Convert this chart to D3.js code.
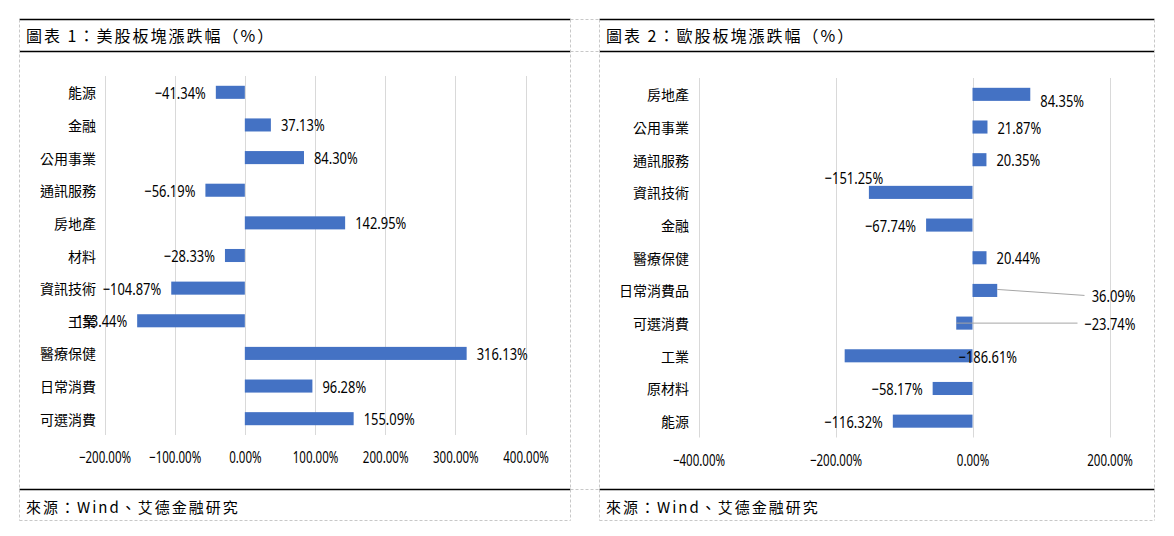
<!DOCTYPE html>
<html>
<head>
<meta charset="utf-8">
<script src="https://cdn.jsdelivr.net/npm/d3@7"></script>
<style>
  body { margin: 0; background: #fff; }
  .cat { font-family: "Noto Sans CJK TC", sans-serif; font-size: 14px; fill: #000; }
  .num { font-family: "Noto Sans", "Noto Sans CJK TC", sans-serif; font-size: 17px; fill: #000; }
  .ttl { font-family: "Noto Sans CJK TC", serif; font-size: 16px; fill: #000; letter-spacing: 2px; }
  .src { font-family: "Noto Sans CJK TC", serif; font-size: 15px; fill: #000; letter-spacing: 2px; }
</style>
</head>
<body>
<svg id="chart" width="1174" height="536"></svg>
<script>
(function() {

// chart 1: US sectors
var usCats = ['能源', '金融', '公用事業', '通訊服務', '房地產', '材料', '資訊技術', '工業', '醫療保健', '日常消費', '可選消費'];
var usVals = [-41.34, 37.13, 84.30, -56.19, 142.95, -28.33, -104.87, -153.44, 316.13, 96.28, 155.09];
var usTicks = [-200, -100, 0, 100, 200, 300, 400];

// chart 2: EU sectors
var euCats = ['房地產', '公用事業', '通訊服務', '資訊技術', '金融', '醫療保健', '日常消費品', '可選消費', '工業', '原材料', '能源'];
var euVals = [84.35, 21.87, 20.35, -151.25, -67.74, 20.44, 36.09, -23.74, -186.61, -58.17, -116.32];
var euTicks = [-400, -200, 0, 200];

var titles = ['圖表 1：美股板塊漲跌幅（%）', '圖表 2：歐股板塊漲跌幅（%）'];
var source = '來源：Wind、艾德金融研究';

var svg = d3.select('#chart');
var fmt = function(v) { return d3.format('.2f')(v) + '%'; };

var barColor = '#4472c4';
var gridColor = '#d9d9d9';
var dashColor = '#c8c8c8';

// squeeze number labels so they look like the narrow excel font
function narrow(sel, k) {
  sel.each(function() {
    var w = this.getComputedTextLength();
    d3.select(this).attr('textLength', w * k).attr('lengthAdjust', 'spacingAndGlyphs');
  });
}

// frame: dashed boxes and black rules
function frame(x0, x1) {
  svg.append('line').attr('x1', x0).attr('x2', x1).attr('y1', 19.5).attr('y2', 19.5)
     .attr('stroke', '#000').attr('stroke-width', 1.5);
  svg.append('line').attr('x1', x0).attr('x2', x1).attr('y1', 51.5).attr('y2', 51.5)
     .attr('stroke', '#000').attr('stroke-width', 1.5);
  svg.append('line').attr('x1', x0).attr('x2', x1).attr('y1', 489.5).attr('y2', 489.5)
     .attr('stroke', '#000').attr('stroke-width', 1.5);
  svg.append('line').attr('x1', x0).attr('x2', x1).attr('y1', 520.5).attr('y2', 520.5)
     .attr('stroke', dashColor).attr('stroke-dasharray', '3,2');
  [x0, x1].forEach(function(x) {
    svg.append('line').attr('x1', x).attr('x2', x).attr('y1', 19.5).attr('y2', 520.5)
       .attr('stroke', dashColor).attr('stroke-dasharray', '3,2');
  });
}
frame(19.5, 570.5);
frame(599.5, 1154.5);
// gap cells between the two panels
[19.5, 51.5, 489.5].forEach(function(y) {
  svg.append('line').attr('x1', 570.5).attr('x2', 599.5).attr('y1', y).attr('y2', y)
     .attr('stroke', dashColor).attr('stroke-dasharray', '3,2');
});

svg.append('text').attr('class', 'ttl').attr('x', 26).attr('y', 35)
   .attr('dominant-baseline', 'central').text(titles[0]);
svg.append('text').attr('class', 'ttl').attr('x', 606).attr('y', 35)
   .attr('dominant-baseline', 'central').text(titles[1]);
svg.append('text').attr('class', 'src').attr('x', 26).attr('y', 506)
   .attr('dominant-baseline', 'central').text(source);
svg.append('text').attr('class', 'src').attr('x', 606).attr('y', 506)
   .attr('dominant-baseline', 'central').text(source);

function drawBars(cats, vals, ticks, opt) {
  var x = d3.scaleLinear().domain(opt.domain).range(opt.xRange);
  var y = d3.scaleBand().domain(cats).range(opt.yRange).paddingInner(0.6).paddingOuter(0.3);
  var g = svg.append('g');

  // gridlines
  g.selectAll('.grid').data(ticks).enter().append('line')
    .attr('x1', function(d) { return Math.round(x(d)) + 0.5; })
    .attr('x2', function(d) { return Math.round(x(d)) + 0.5; })
    .attr('y1', opt.yRange[0]).attr('y2', opt.yRange[1])
    .attr('stroke', gridColor).attr('stroke-width', 1);

  // x axis labels
  var ax = g.append('g').attr('transform', 'translate(0,' + opt.yRange[1] + ')')
    .call(d3.axisBottom(x).tickValues(ticks).tickSize(0).tickPadding(17).tickFormat(fmt));
  ax.select('.domain').remove();
  ax.selectAll('text').attr('class', 'num').attr('fill', '#000').style('font-size', '16px')
    .call(narrow, 0.72);

  // category labels
  g.selectAll('.cat').data(cats).enter().append('text')
    .attr('class', 'cat')
    .attr('x', opt.labelX)
    .attr('y', function(d) { return y(d) + y.bandwidth() / 2; })
    .attr('text-anchor', 'end')
    .attr('dominant-baseline', 'central')
    .text(function(d) { return d; });

  var data = cats.map(function(c, i) { return {cat: c, val: vals[i]}; });

  g.selectAll('.bar').data(data).enter().append('rect')
    .attr('x', function(d) { return x(Math.min(0, d.val)); })
    .attr('y', function(d) { return y(d.cat); })
    .attr('width', function(d) { return Math.abs(x(d.val) - x(0)); })
    .attr('height', y.bandwidth())
    .attr('fill', barColor);

  data.forEach(function(d) {
    var cy = y(d.cat) + y.bandwidth() / 2;
    var pos = {
      x: d.val >= 0 ? x(d.val) + 10 : x(d.val) - 10,
      y: cy,
      anchor: d.val >= 0 ? 'start' : 'end'
    };
    var special = opt.nudge && opt.nudge[d.cat];
    if (special) pos = special(x, cy, d.val, pos);
    if (pos.leader) {
      g.append('line')
        .attr('x1', pos.leader[0]).attr('y1', pos.leader[1])
        .attr('x2', pos.leader[2]).attr('y2', pos.leader[3])
        .attr('stroke', '#a6a6a6').attr('stroke-width', 1);
    }
    g.append('text').attr('class', 'num')
      .attr('x', pos.x).attr('y', pos.y)
      .attr('text-anchor', pos.anchor)
      .attr('dominant-baseline', 'central')
      .text(fmt(d.val))
      .call(narrow, 0.76);
  });
}

drawBars(usCats, usVals, usTicks, {
  domain: [-200, 400], xRange: [104.5, 525.5], yRange: [76, 435], labelX: 96
});

// EU chart has a few labels that were dragged around by hand
drawBars(euCats, euVals, euTicks, {
  domain: [-400, 200], xRange: [698.5, 1109.5], yRange: [78, 437.5], labelX: 689,
  nudge: {
    '房地產': function(x, cy, v, p) { p.y = cy + 6; return p; },
    '資訊技術': function(x, cy, v, p) { return {x: x(v) - 15, y: cy - 15, anchor: 'middle'}; },
    '日常消費品': function(x, cy, v, p) {
      return {x: x(200) + 26, y: cy + 5, anchor: 'end', leader: [x(v), cy - 1, x(200) - 25, cy + 5]};
    },
    '可選消費': function(x, cy, v, p) {
      return {x: x(200) + 26, y: cy, anchor: 'end', leader: [x(v), cy, x(200) - 32, cy]};
    },
    '工業': function(x, cy, v, p) { return {x: x(0) - 14, y: cy + 1, anchor: 'start'}; }
  }
});

})();
</script>
</body>
</html>
